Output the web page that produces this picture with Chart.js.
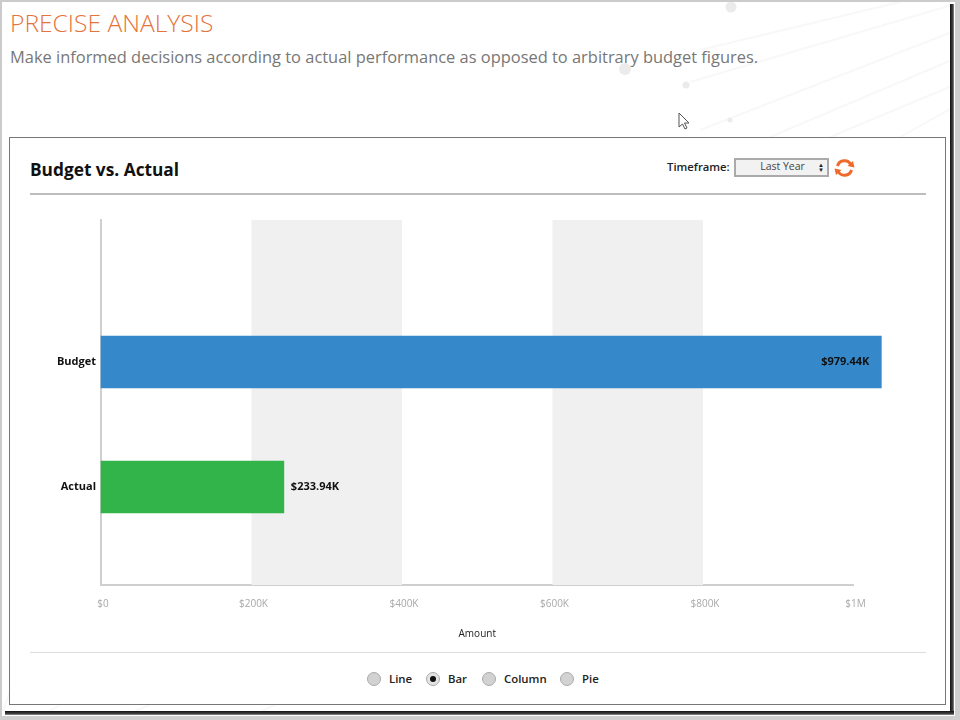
<!DOCTYPE html>
<html>
<head>
<meta charset="utf-8">
<title>Budget vs. Actual</title>
<script src="https://cdn.jsdelivr.net/npm/chart.js@4"></script>
<style>
  html, body { margin: 0; padding: 0; background: #fff; }
  body { width: 960px; height: 720px; position: relative; overflow: hidden; font-family: "Open Sans", sans-serif; }
  .abs { position: absolute; }
  #frame { left: 0; top: 0; width: 956px; height: 716px; border: 2px solid #cbcbcb; border-right: 0; border-bottom: 0; box-sizing: border-box; }
  #edge-r { left: 950px; top: 4px; width: 4px; height: 711px; background: linear-gradient(to right, #111, #444 70%, #999); }
  #edge-b { left: 5px; top: 711px; width: 949px; height: 4px; background: linear-gradient(to bottom, #111, #444 70%, #999); }
  #outer-r { left: 955px; top: 0; width: 5px; height: 720px; background: #cfcfcf; }
  #outer-b { left: 0; top: 716px; width: 960px; height: 4px; background: #cfcfcf; }
  #deco { left: 0; top: 0; }
  h1 { left: 10px; top: 6px; margin: 0; font-size: 24.6px; line-height: 33px; font-weight: 300; color: #e5743c; white-space: nowrap; }
  #sub { left: 10px; top: 45px; font-size: 16.43px; line-height: 23px; color: #777; white-space: nowrap; }
  #panel { left: 9px; top: 137px; width: 937px; height: 568px; box-sizing: border-box; border: 1px solid #777; background: #fff; }
  h2 { left: 30px; top: 157px; margin: 0; font-size: 17.3px; line-height: 25px; font-weight: 700; color: #111; white-space: nowrap; }
  .rule { left: 30px; width: 896px; }
  #rule1 { top: 193px; height: 2px; background: #bdbdbd; }
  #rule2 { top: 652px; height: 1px; background: #ddd; }
  #tf { left: 667px; top: 158px; font-size: 11.3px; line-height: 18px; font-weight: 600; color: #222; }
  #sel { left: 734px; top: 158px; width: 95px; height: 19px; box-sizing: border-box; border: 2px solid #aaa; background: #f2f2f2; font-size: 10.5px; line-height: 13px; color: #444; text-align: center; padding-left: 2px; }
  #sel i { position: absolute; right: 3px; top: 3px; font-style: normal; font-size: 6px; line-height: 5px; color: #222; }
  #chart-wrap { left: 11px; top: 200px; width: 932px; height: 440px; }
  .opt { top: 670px; height: 18px; font-size: 11.4px; line-height: 18px; font-weight: 600; color: #222; white-space: nowrap; }
  .radio { position: absolute; left: 0; top: 2px; width: 14px; height: 14px; box-sizing: border-box; border-radius: 50%; background: #d2d2d2; border: 1px solid #aaa; }
  .radio.on { background: #e4e4e4; }
  .radio.on::after { content: ""; position: absolute; left: 3px; top: 3px; width: 6px; height: 6px; border-radius: 50%; background: #111; }
  .opt span { margin-left: 22px; }
</style>
</head>
<body>
<svg id="deco" class="abs" width="960" height="720">
  <g stroke="#f8f8f8" stroke-width="2" fill="none">
    <line x1="700" y1="50" x2="900" y2="2"/>
    <line x1="690" y1="82" x2="952" y2="5"/>
    <line x1="700" y1="130" x2="952" y2="32"/>
    <line x1="770" y1="137" x2="952" y2="60"/>
    <line x1="830" y1="137" x2="952" y2="86"/>
    <line x1="900" y1="137" x2="952" y2="108"/>
    <line x1="14" y1="680" x2="3" y2="711"/>
    <line x1="60" y1="705" x2="50" y2="711"/>
    <line x1="150" y1="705" x2="135" y2="711"/>
    <line x1="275" y1="705" x2="262" y2="711"/>
  </g>
  <g fill="#ebebeb">
    <circle cx="731" cy="7" r="5.5"/>
    <circle cx="625" cy="69" r="6"/>
    <circle cx="686" cy="85" r="3.5"/>
    <circle cx="730" cy="120" r="2.5"/>
  </g>
  <path d="M679 113 v14 l3.5 -3 l2.5 5 l2 -1 l-2.5 -5 h4.5 z" fill="#fff" stroke="#555" stroke-width="1"/>
</svg>
<div id="frame" class="abs"></div>
<div id="edge-r" class="abs"></div>
<div id="edge-b" class="abs"></div>
<div id="outer-r" class="abs"></div>
<div id="outer-b" class="abs"></div>

<h1 class="abs">PRECISE ANALYSIS</h1>
<div id="sub" class="abs">Make informed decisions according to actual performance as opposed to arbitrary budget figures.</div>

<div id="panel" class="abs"></div>
<h2 class="abs">Budget vs. Actual</h2>
<div id="tf" class="abs">Timeframe:</div>
<div id="sel" class="abs">Last Year<i>▲<br>▼</i></div>
<svg class="abs" style="left:834px;top:158px" width="21" height="20" viewBox="0 0 21 20">
  <g fill="none" stroke="#ee6a2a" stroke-width="3">
    <path d="M3.5 8 A7.2 7.2 0 0 1 17 7"/>
    <path d="M17.5 12 A7.2 7.2 0 0 1 4 13"/>
  </g>
  <path d="M20.5 9.5 L13.5 8 L19 3 Z" fill="#ee6a2a"/>
  <path d="M0.5 10.5 L7.5 12 L2 17 Z" fill="#ee6a2a"/>
</svg>
<div id="rule1" class="abs rule"></div>

<div id="chart-wrap" class="abs"><canvas id="budget-chart" width="932" height="440"></canvas></div>

<div id="rule2" class="abs rule"></div>
<div class="abs opt" style="left:367px"><div class="radio"></div><span>Line</span></div>
<div class="abs opt" style="left:426px"><div class="radio on"></div><span>Bar</span></div>
<div class="abs opt" style="left:482px"><div class="radio"></div><span>Column</span></div>
<div class="abs opt" style="left:560px"><div class="radio"></div><span>Pie</span></div>

<script>
const categories = ['Budget', 'Actual'];
// Bar lengths as read against the x axis. The printed labels below are what the
// chart says; in the picture the bars run slightly longer than those figures.
const barAmounts = [1037000, 243000];
const barLabels = ['$979.44K', '$233.94K'];
const barColors = ['#3588ca', '#32b44a'];
const xTickLabels = ['$0', '$200K', '$400K', '$600K', '$800K', '$1M'];
const xBands = [[200000, 400000], [600000, 800000]];

const CHART_LEFT = 11, CHART_TOP = 200;  // canvas offset in the page

// The plot keeps empty room above and below the two rows, uneven on each side,
// which the stock category scale can't do.
class PaddedCategoryScale extends Chart.CategoryScale {
  static id = 'paddedCategory';
  static defaults = Chart.CategoryScale.defaults;
  configure() {
    super.configure();
    const o = this.options;
    this._startValue = -o.slotsBefore;
    this._valueRange = o.slotsBefore + (this.getLabels().length - 1) + o.slotsAfter;
  }
}
Chart.register(PaddedCategoryScale);

const bandsPlugin = {
  id: 'bands',
  beforeDatasetsDraw(chart) {
    const {ctx, chartArea, scales} = chart;
    ctx.save();
    ctx.fillStyle = '#f0f0f0';
    for (const [from, to] of xBands) {
      const a = scales.x.getPixelForValue(from);
      const b = scales.x.getPixelForValue(to);
      ctx.fillRect(a, chartArea.top, b - a, chartArea.height);
    }
    ctx.restore();
  }
};

const valueLabelsPlugin = {
  id: 'valueLabels',
  afterDatasetsDraw(chart) {
    const {ctx, chartArea} = chart;
    ctx.save();
    ctx.font = '700 11px "Open Sans"';
    ctx.fillStyle = '#111';
    ctx.textBaseline = 'middle';
    chart.getDatasetMeta(0).data.forEach((bar, i) => {
      // long bars take the label inside, short ones just past the end
      const inside = bar.x > chartArea.left + chartArea.width / 2;
      ctx.textAlign = inside ? 'right' : 'left';
      ctx.fillText(barLabels[i], inside ? bar.x - 12 : bar.x + 7, bar.y);
    });
    ctx.restore();
  }
};

new Chart(document.getElementById('budget-chart').getContext('2d'), {
  type: 'bar',
  data: {
    labels: categories,
    datasets: [{
      data: barAmounts,
      backgroundColor: barColors,
      barThickness: 52,
      clip: false,
    }],
  },
  options: {
    indexAxis: 'y',
    responsive: false,
    animation: false,
    layout: {padding: {top: 220 - CHART_TOP, right: 932 - (853.5 - CHART_LEFT), left: 0, bottom: 0}},
    plugins: {legend: {display: false}, tooltip: {enabled: false}},
    scales: {
      x: {
        min: 0,
        max: 1000000,
        grid: {display: false, drawTicks: false},
        border: {color: '#cfcfcf', width: 2},
        ticks: {
          stepSize: 200000,
          autoSkip: false,
          maxRotation: 0,
          padding: 13,
          labelOffset: 2,
          color: '#a8a8a8',
          font: {family: 'Open Sans', size: 10},
          callback: (v, i) => xTickLabels[i],
        },
        title: {
          display: true,
          text: 'Amount',
          color: '#222',
          padding: {top: 14, bottom: 0},
          font: {family: 'Open Sans', size: 10},
        },
        afterFit: s => { s.height = 640 - 585; },
      },
      y: {
        type: 'paddedCategory',
        slotsBefore: 1.136,
        slotsAfter: 0.784,
        grid: {display: false, drawTicks: false},
        border: {color: '#cfcfcf', width: 2},
        ticks: {
          padding: 5,
          color: '#111',
          font: {family: 'Open Sans', size: 11, weight: '700'},
        },
        afterFit: s => { s.width = 101 - CHART_LEFT; },
      },
    },
  },
  plugins: [bandsPlugin, valueLabelsPlugin],
});
</script>
</body>
</html>
